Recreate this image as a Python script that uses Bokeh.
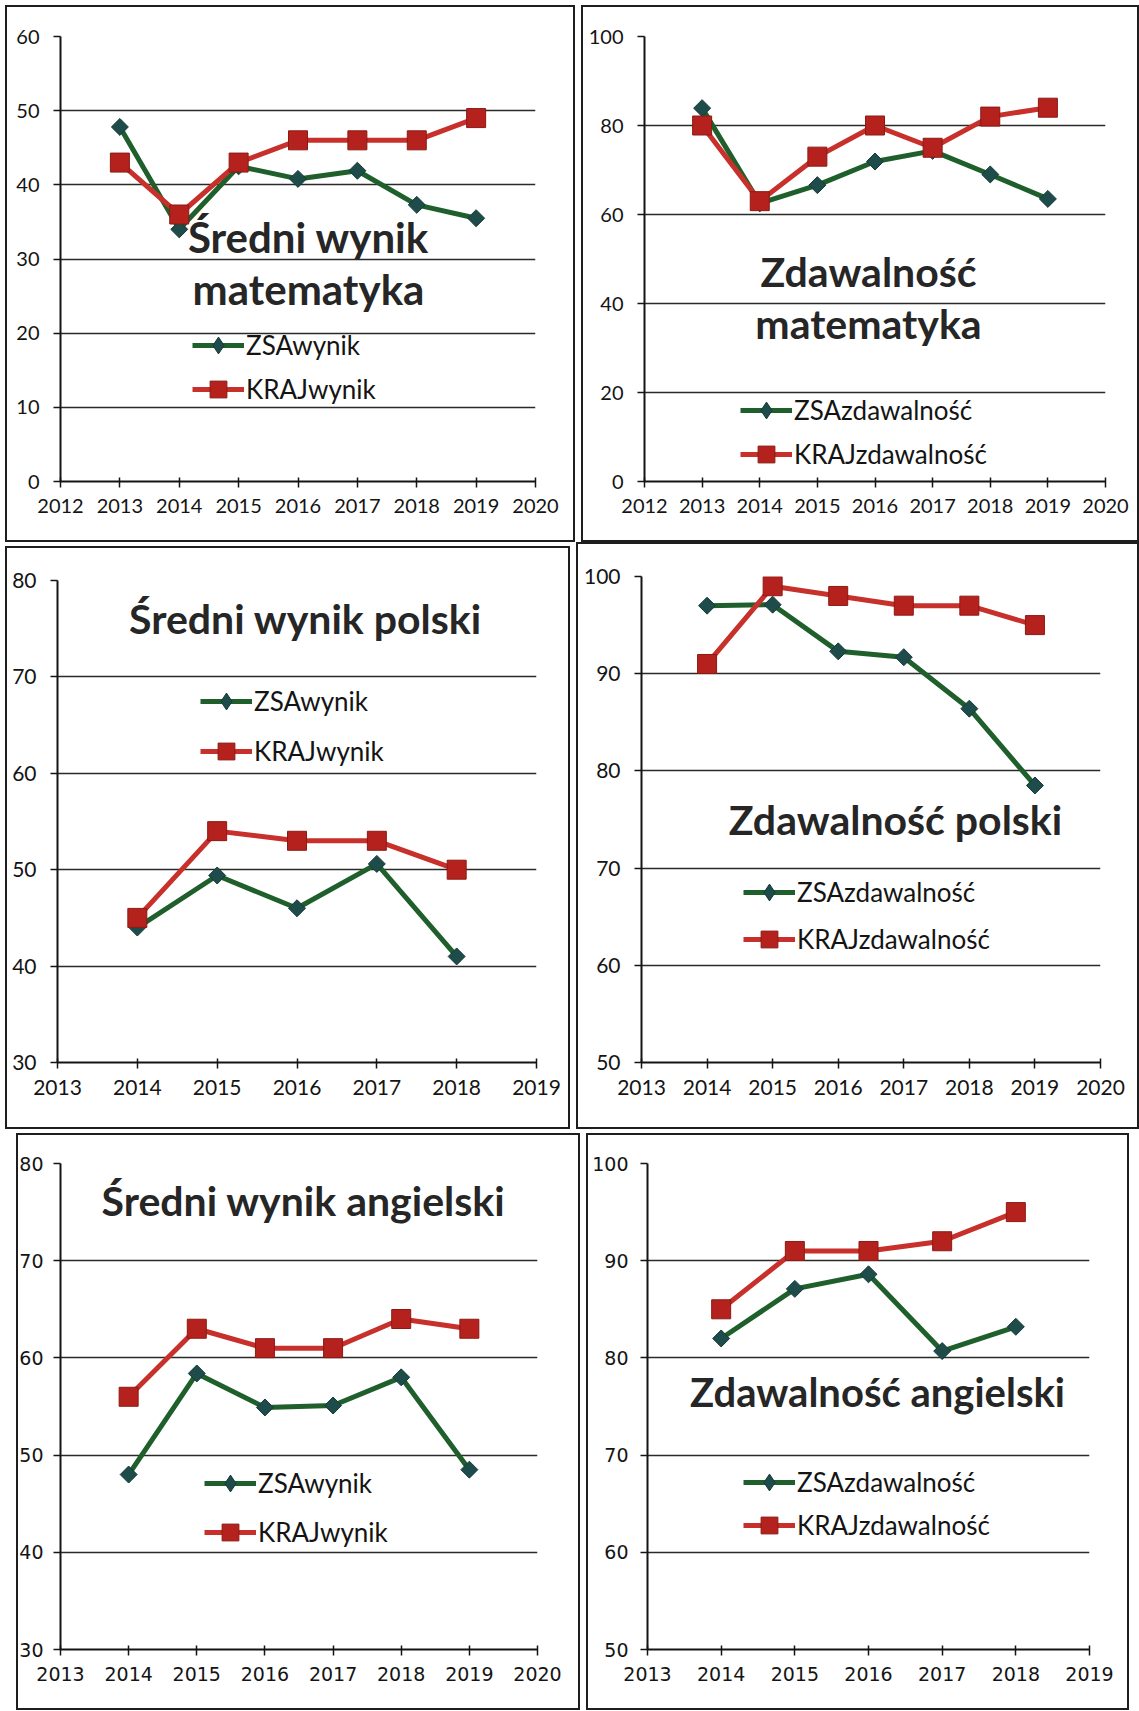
import math
from bokeh.plotting import figure
from bokeh.models import Range1d, FixedTicker, Label, Legend, LegendItem
from bokeh.layouts import column, row
from bokeh.embed import file_html
from bokeh.resources import INLINE

# ---------------- data ----------------
math_years = [2013, 2014, 2015, 2016, 2017, 2018, 2019]
math_zsa_wynik = [47.8, 34.0, 42.5, 40.8, 41.9, 37.3, 35.5]
math_kraj_wynik = [43, 36, 43, 46, 46, 46, 49]
math_zsa_zdaw = [83.9, 62.5, 66.6, 71.9, 74.3, 69.0, 63.5]
math_kraj_zdaw = [80, 63, 73, 80, 75, 82, 84]

pol_wynik_years = [2014, 2015, 2016, 2017, 2018]
pol_zsa_wynik = [44.0, 49.4, 46.0, 50.6, 41.0]
pol_kraj_wynik = [45, 54, 53, 53, 50]

pol_zdaw_years = [2014, 2015, 2016, 2017, 2018, 2019]
pol_zsa_zdaw = [97.0, 97.1, 92.3, 91.7, 86.4, 78.5]
pol_kraj_zdaw = [91, 99, 98, 97, 97, 95]

ang_wynik_years = [2014, 2015, 2016, 2017, 2018, 2019]
ang_zsa_wynik = [48.0, 58.4, 54.9, 55.1, 58.0, 48.5]
ang_kraj_wynik = [56, 63, 61, 61, 64, 63]

ang_zdaw_years = [2014, 2015, 2016, 2017, 2018]
ang_zsa_zdaw = [82.0, 87.1, 88.6, 80.7, 83.2]
ang_kraj_zdaw = [85, 91, 91, 92, 95]

# tick labels
xticks_math = [2012, 2013, 2014, 2015, 2016, 2017, 2018, 2019, 2020]
xticks_pol_wynik = [2013, 2014, 2015, 2016, 2017, 2018, 2019]
xticks_pol_zdaw = [2013, 2014, 2015, 2016, 2017, 2018, 2019, 2020]
xticks_ang_wynik = [2013, 2014, 2015, 2016, 2017, 2018, 2019, 2020]
xticks_ang_zdaw = [2013, 2014, 2015, 2016, 2017, 2018, 2019]

yticks_math_wynik = [0, 10, 20, 30, 40, 50, 60]
yticks_math_zdaw = [0, 20, 40, 60, 80, 100]
yticks_pol_wynik = [30, 40, 50, 60, 70, 80]
yticks_pol_zdaw = [50, 60, 70, 80, 90, 100]
yticks_ang_wynik = [30, 40, 50, 60, 70, 80]
yticks_ang_zdaw = [50, 60, 70, 80, 90, 100]

# texts
labels_wynik = ["ZSAwynik", "KRAJwynik"]
labels_zdaw = ["ZSAzdawalność", "KRAJzdawalność"]
title_math_wynik = ["Średni wynik", "matematyka"]
title_math_zdaw = ["Zdawalność", "matematyka"]
title_pol_wynik = ["Średni wynik polski"]
title_pol_zdaw = ["Zdawalność polski"]
title_ang_wynik = ["Średni wynik angielski"]
title_ang_zdaw = ["Zdawalność angielski"]

# ---------------- styles ----------------
GREEN = "#1f5f2c"
GREEN_MARK = "#1d4c4a"
GREEN_MARK_LINE = "#163a38"
RED = "#c8302b"
RED_MARK = "#b5221d"
RED_MARK_LINE = "#8c1914"
INK = "#141414"


def panel(years, zsa, kraj, xticks, yticks, labels, titles, geom, title_pos,
          leg, tick_font, tick_size, title_size=41, margin=None, ystandoff=14):
    fl, fw, fr, ft, fh, fb = geom
    kw = {}
    if margin is not None:
        kw["margin"] = margin
    p = figure(frame_width=fw, frame_height=fh,
               min_border_left=fl, min_border_right=fr,
               min_border_top=ft, min_border_bottom=fb,
               x_range=Range1d(xticks[0], xticks[-1]),
               y_range=Range1d(yticks[0], yticks[-1]),
               output_backend="svg", toolbar_location=None,
               background_fill_color=None, border_fill_color=None,
               outline_line_color=None, **kw)
    p.styles = {"box-shadow": "inset 0 0 0 2px #1e1e1e", "background-color": "white"}

    p.xgrid.visible = False
    p.ygrid.ticker = FixedTicker(ticks=yticks)
    p.ygrid.grid_line_color = "#2a2a2a"
    p.ygrid.grid_line_width = 1.7

    p.xaxis.ticker = FixedTicker(ticks=xticks)
    p.yaxis.ticker = FixedTicker(ticks=yticks)
    for ax in (p.xaxis[0], p.yaxis[0]):
        ax.axis_line_color = INK
        ax.axis_line_width = 2
        ax.major_tick_line_color = INK
        ax.major_tick_line_width = 1.5
        ax.minor_tick_line_color = None
        ax.major_label_text_font = tick_font
        ax.major_label_text_font_size = f"{tick_size}px"
        ax.major_label_text_color = INK
    p.xaxis.major_tick_in = 4
    p.xaxis.major_tick_out = 6
    p.xaxis.major_label_standoff = 11
    p.yaxis.major_tick_in = 0
    p.yaxis.major_tick_out = 7
    p.yaxis.major_label_standoff = ystandoff

    r1 = p.line(years, zsa, line_color=GREEN, line_width=5)
    p.scatter(years, zsa, marker="square", angle=math.pi / 4, size=12,
              fill_color=GREEN_MARK, line_color=GREEN_MARK_LINE, line_width=1)
    r2 = p.line(years, kraj, line_color=RED, line_width=5)
    s2 = p.scatter(years, kraj, marker="square", size=19,
                   fill_color=RED_MARK, line_color=RED_MARK_LINE, line_width=1)
    # legend-only diamond (legend glyphs ignore marker angle)
    d1 = p.scatter(years, zsa, marker="diamond", size=12,
                   fill_color=GREEN_MARK, line_color=GREEN_MARK_LINE, line_width=1)
    d1.visible = False

    for text, (tx, ty) in zip(titles, title_pos):
        p.add_layout(Label(x=tx, y=fh - ty, x_units="screen", y_units="screen",
                           text=text, text_align="center", text_baseline="middle",
                           text_font="Lato", text_font_style="bold",
                           text_font_size=f"{title_size}px", text_color="#262626"))

    lx, c1, c2 = leg
    H = 42
    legend = Legend(items=[LegendItem(label=labels[0], renderers=[r1, d1]),
                           LegendItem(label=labels[1], renderers=[r2, s2])],
                    location=(lx, fh - (c2 + H / 2)), orientation="vertical",
                    padding=0, margin=0, spacing=max(1, (c2 - c1) - H),
                    glyph_width=52, glyph_height=H, label_height=H,
                    label_standoff=2, label_text_font="Lato",
                    label_text_font_size="26px", label_text_color=INK,
                    background_fill_alpha=0, border_line_color=None,
                    inactive_fill_alpha=0)
    p.add_layout(legend)
    return p


p1 = panel(math_years, math_zsa_wynik, math_kraj_wynik, xticks_math, yticks_math_wynik,
           labels_wynik, title_math_wynik, (55, 475, 40, 31, 445, 61),
           [(248, 200), (248, 252)], (132, 309, 353), "Lato", 20, title_size=42)
p2 = panel(math_years, math_zsa_zdaw, math_kraj_zdaw, xticks_math, yticks_math_zdaw,
           labels_zdaw, title_math_zdaw, (63, 461, 34, 31, 445, 61),
           [(224, 235), (224, 287)], (96, 374, 418), "Lato", 20)
p3 = panel(pol_wynik_years, pol_zsa_wynik, pol_kraj_wynik, xticks_pol_wynik, yticks_pol_wynik,
           labels_wynik, title_pol_wynik, (52, 479, 34, 34, 482, 67),
           [(248, 38)], (143, 121, 171), "Lato", 21)
p4 = panel(pol_zdaw_years, pol_zsa_zdaw, pol_kraj_zdaw, xticks_pol_zdaw, yticks_pol_zdaw,
           labels_zdaw, title_pol_zdaw, (65, 459, 39, 30, 486, 71),
           [(254, 243)], (102, 316, 363), "Lato", 21, margin=(-4, 0, 0, 0))
p5 = panel(ang_wynik_years, ang_zsa_wynik, ang_kraj_wynik, xticks_ang_wynik, yticks_ang_wynik,
           labels_wynik, title_ang_wynik, (44, 477, 43, 30, 486, 61),
           [(243, 37)], (144, 320, 369), "DejaVu Sans", 19, margin=(0, 0, 0, 11), ystandoff=10)
p6 = panel(ang_zdaw_years, ang_zsa_zdaw, ang_kraj_zdaw, xticks_ang_zdaw, yticks_ang_zdaw,
           labels_zdaw, title_ang_zdaw, (61, 442, 40, 27, 486, 64),
           [(230, 228)], (96, 319, 362), "DejaVu Sans", 19, ystandoff=12, title_size=40)

layout = column(row(p1, p2, spacing=6), row(p3, p4, spacing=6), row(p5, p6, spacing=6),
                spacing=4, margin=(5, 0, 0, 5))

open("out.html", "w").write(file_html(layout, INLINE))
